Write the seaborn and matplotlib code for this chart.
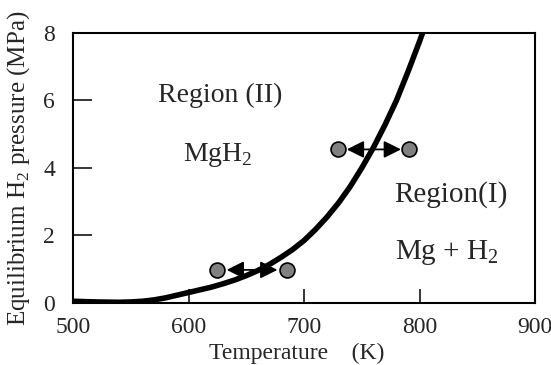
import numpy as np
import pandas as pd
import matplotlib
matplotlib.use('Agg')
import matplotlib.pyplot as plt
import seaborn as sns

# equilibrium curve
temperature = [500, 510, 520, 530, 540, 550, 560, 570, 580, 590, 600, 610, 620, 630, 640, 650,
               660, 670, 680, 690, 700, 710, 720, 730, 740, 750, 760, 770, 780, 790, 800, 810]
pressure = [0.05, 0.04, 0.03, 0.025, 0.02, 0.03, 0.05, 0.09, 0.15, 0.23, 0.31, 0.39, 0.47, 0.57, 0.68, 0.81,
            0.96, 1.14, 1.35, 1.58, 1.85, 2.18, 2.55, 2.97, 3.45, 4.0, 4.6, 5.27, 6.0, 6.85, 7.75, 8.7]

# measured points (circles) and arrows between them
point_t = [625, 685, 729, 791]
point_p = [0.98, 0.98, 4.55, 4.55]
arrow_left = [633, 737]
arrow_right = [677, 784]
arrow_p = [0.98, 4.55]

xticks = [500, 600, 700, 800, 900]
yticks = [0, 2, 4, 6, 8]

curve = pd.DataFrame({'T': temperature, 'P': pressure})
points = pd.DataFrame({'T': point_t, 'P': point_p})

sns.set_style('ticks')
plt.rcParams['font.family'] = ['Liberation Serif', 'DejaVu Serif']
plt.rcParams['mathtext.fontset'] = 'custom'
plt.rcParams['mathtext.rm'] = 'Liberation Serif'

fig = plt.figure(figsize=(5.51, 3.65), dpi=100)
ax = fig.add_axes([0.1325, 0.170, 0.8385, 0.7396])

sns.lineplot(data=curve, x='T', y='P', ax=ax, color='black', lw=4, zorder=3)

for l, r, p in zip(arrow_left, arrow_right, arrow_p):
    ax.annotate('', xy=(l, p), xytext=(r, p),
                arrowprops=dict(arrowstyle='<|-|>', color='black', lw=1.3,
                                mutation_scale=26, shrinkA=0, shrinkB=0), zorder=4)

sns.scatterplot(data=points, x='T', y='P', ax=ax, s=115, color='#808080',
                edgecolor='black', linewidth=1.2, zorder=5)

ax.set_xlim(500, 900)
ax.set_ylim(0, 8)
ax.set_xticks(xticks)
ax.set_yticks(yticks)
ax.tick_params(axis='x', direction='in', length=10, width=1.3, labelsize=17, pad=10)
ax.tick_params(axis='y', direction='in', length=13.5, width=1.3, labelsize=17, pad=13)
for s in ax.spines.values():
    s.set_linewidth(1.5)
    s.set_color('black')

ax.set_xlabel('Temperature    (K)', fontsize=17)
ax.set_ylabel('Equilibrium H$_\\mathrm{2}$ pressure (MPa)', fontsize=18)
ax.xaxis.set_label_coords(0.485, -0.148)
ax.yaxis.set_label_coords(-0.088, 0.5)

ax.text(627, 6.16, 'Region (II)', fontsize=20, ha='center', va='center')
ax.text(625, 4.38, 'MgH$_\\mathrm{2}$', fontsize=20, ha='center', va='center')
ax.text(827, 3.2, 'Region(I)', fontsize=21, ha='center', va='center')
ax.text(824, 1.5, 'Mg + H$_\\mathrm{2}$', fontsize=21, ha='center', va='center')

fig.savefig('out.png', dpi=100)
